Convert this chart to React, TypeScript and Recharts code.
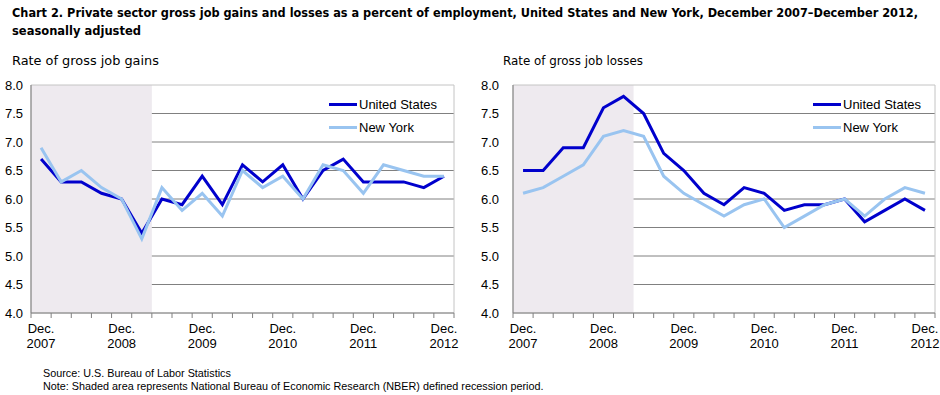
import React from "react";
import { LineChart, Line, XAxis, YAxis, CartesianGrid, ReferenceArea } from "recharts";

const quarters = [
  "Dec. 2007", "Mar. 2008", "Jun. 2008", "Sep. 2008", "Dec. 2008",
  "Mar. 2009", "Jun. 2009", "Sep. 2009", "Dec. 2009", "Mar. 2010",
  "Jun. 2010", "Sep. 2010", "Dec. 2010", "Mar. 2011", "Jun. 2011",
  "Sep. 2011", "Dec. 2011", "Mar. 2012", "Jun. 2012", "Sep. 2012", "Dec. 2012",
];

const gainsUS = [6.7, 6.3, 6.3, 6.1, 6.0, 5.4, 6.0, 5.9, 6.4, 5.9, 6.6, 6.3, 6.6, 6.0, 6.5, 6.7, 6.3, 6.3, 6.3, 6.2, 6.4];
const gainsNY = [6.9, 6.3, 6.5, 6.2, 6.0, 5.3, 6.2, 5.8, 6.1, 5.7, 6.5, 6.2, 6.4, 6.0, 6.6, 6.5, 6.1, 6.6, 6.5, 6.4, 6.4];
const lossesUS = [6.5, 6.5, 6.9, 6.9, 7.6, 7.8, 7.5, 6.8, 6.5, 6.1, 5.9, 6.2, 6.1, 5.8, 5.9, 5.9, 6.0, 5.6, 5.8, 6.0, 5.8];
const lossesNY = [6.1, 6.2, 6.4, 6.6, 7.1, 7.2, 7.1, 6.4, 6.1, 5.9, 5.7, 5.9, 6.0, 5.5, 5.7, 5.9, 6.0, 5.7, 6.0, 6.2, 6.1];

const yTicks = [4.0, 4.5, 5.0, 5.5, 6.0, 6.5, 7.0, 7.5, 8.0];
const recession = ["Dec. 2007", "Mar. 2009"];

const US_COLOR = "#0000cc";
const NY_COLOR = "#99c4f0";
const AXIS = "#808080";
const FONT = "'Liberation Sans', Arial, sans-serif";
const NARROW = "'DejaVu Sans Condensed', 'Liberation Sans', Arial, sans-serif";

const gainsData = quarters.map((q, i) => ({ q, us: gainsUS[i], ny: gainsNY[i] }));
const lossesData = quarters.map((q, i) => ({ q, us: lossesUS[i], ny: lossesNY[i] }));

function QuarterTick(props: any) {
  const { x, y, payload, index } = props;
  const half = payload.offset ?? 0;
  const [month, year] = String(payload.value).split(" ");
  return (
    <g>
      <line x1={x - half} x2={x - half} y1={y} y2={y + 5} stroke={AXIS} />
      {index === quarters.length - 1 && <line x1={x + half} x2={x + half} y1={y} y2={y + 5} stroke={AXIS} />}
      {month === "Dec." && (
        <text x={x} y={y} textAnchor="middle" fontSize={13} fontFamily={FONT} fill="#000">
          <tspan x={x} dy={20}>Dec.</tspan>
          <tspan x={x} dy={15}>{year}</tspan>
        </text>
      )}
    </g>
  );
}

function Panel({ data, yWidth, right, dx }: { data: any[]; yWidth: number; right: number; dx: number }) {
  return (
    <LineChart width={470} height={290} data={data} margin={{ top: 10, right, bottom: 12, left: 0 }}>
      <ReferenceArea x1={recession[0]} x2={recession[1]} y1={4} y2={8} fill="#eeeaef" fillOpacity={1} stroke="none" />
      <ReferenceArea x1={quarters[0]} x2={quarters[quarters.length - 1]} y1={4} y2={8} fill="none" stroke="#c4c4c4" />
      <CartesianGrid vertical={false} stroke={AXIS} horizontalValues={[4.5, 5.0, 5.5, 6.0, 6.5, 7.0, 7.5]} />
      <XAxis
        dataKey="q"
        scale="band"
        interval={0}
        height={40}
        tickSize={0}
        tickMargin={0}
        tickLine={false}
        axisLine={{ stroke: AXIS }}
        tick={<QuarterTick />}
      />
      <YAxis
        width={yWidth}
        domain={[4, 8]}
        ticks={yTicks}
        tickFormatter={(v: number) => v.toFixed(1)}
        tickLine={false}
        axisLine={{ stroke: AXIS }}
        tick={{ fill: "#000", fontSize: 13, fontFamily: FONT, dx }}
      />
      <Line dataKey="us" stroke={US_COLOR} strokeWidth={3} dot={false} isAnimationActive={false} />
      <Line dataKey="ny" stroke={NY_COLOR} strokeWidth={3} dot={false} isAnimationActive={false} />
    </LineChart>
  );
}

function LegendBox({ left }: { left: number }) {
  const row = (color: string, label: string) => (
    <div style={{ display: "flex", alignItems: "center", height: 23 }}>
      <div style={{ width: 28, height: 3, background: color, marginRight: 2 }} />
      <span>{label}</span>
    </div>
  );
  return (
    <div style={{ position: "absolute", left, top: 93, fontFamily: FONT, fontSize: 13, color: "#000" }}>
      {row(US_COLOR, "United States")}
      {row(NY_COLOR, "New York")}
    </div>
  );
}

export default function App() {
  return (
    <div style={{ position: "absolute", left: 0, top: 0, width: 940, height: 395, background: "#fff" }}>
      <svg width={940} height={70} style={{ position: "absolute", left: 0, top: 0 }}>
        <g fontFamily={NARROW} fill="#000">
          <text x={12} y={17} fontSize={12.5} fontWeight="bold" textLength={906} lengthAdjust="spacingAndGlyphs">
            Chart 2. Private sector gross job gains and losses as a percent of employment, United States and New York, December 2007–December 2012,
          </text>
          <text x={12} y={35} fontSize={12.5} fontWeight="bold" textLength={129} lengthAdjust="spacingAndGlyphs">
            seasonally adjusted
          </text>
          <text x={12} y={65} fontSize={13} textLength={147} lengthAdjust="spacingAndGlyphs">Rate of gross job gains</text>
          <text x={503} y={65} fontSize={13} textLength={140} lengthAdjust="spacingAndGlyphs">Rate of gross job losses</text>
        </g>
      </svg>
      <div style={{ position: "absolute", left: 0, top: 75 }}>
        <Panel data={gainsData} yWidth={31} right={16} dx={0} />
      </div>
      <div style={{ position: "absolute", left: 470, top: 75 }}>
        <Panel data={lossesData} yWidth={43} right={5} dx={-6} />
      </div>
      <LegendBox left={329} />
      <LegendBox left={813} />
      <div style={{ position: "absolute", left: 43, top: 367, fontFamily: FONT, fontSize: 10.8, lineHeight: "13px", color: "#000" }}>
        <div>Source: U.S. Bureau of Labor Statistics</div>
        <div>Note: Shaded area represents National Bureau of Economic Research (NBER) defined recession period.</div>
      </div>
    </div>
  );
}
